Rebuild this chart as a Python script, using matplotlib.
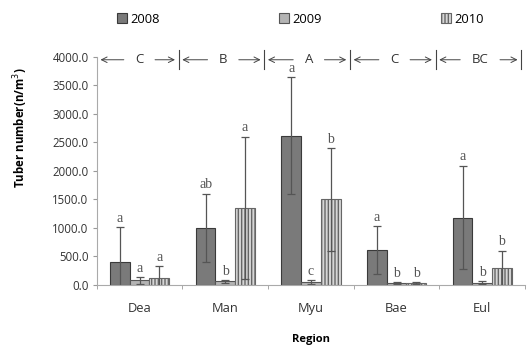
import matplotlib
matplotlib.use("Agg")
import matplotlib.pyplot as plt
import numpy as np

regions = ["Dea", "Man", "Myu", "Bae", "Eul"]
years = ["2008", "2009", "2010"]
vals_2008 = [410, 1000, 2620, 610, 1180]
vals_2009 = [80, 60, 50, 30, 40]
vals_2010 = [120, 1350, 1500, 30, 300]
err_2008 = [600, 600, 1030, 420, 910]
err_2009 = [60, 25, 30, 20, 30]
err_2010 = [210, 1250, 900, 15, 300]
let_2008 = ["a", "ab", "a", "a", "a"]
let_2009 = ["a", "b", "c", "b", "b"]
let_2010 = ["a", "a", "b", "b", "b"]
group_labels = ["C", "B", "A", "C", "BC"]

plt.rcParams['font.family'] = ['Open Sans', 'DejaVu Sans']

fig = plt.figure(figsize=(5.32, 3.47), dpi=100)
ax = fig.add_axes([0.182, 0.179, 0.805, 0.657])

x = np.arange(len(regions))
w = 0.23
series = [
    (vals_2008, err_2008, let_2008, dict(color="#7a7a7a", edgecolor="#3a3a3a", hatch=None)),
    (vals_2009, err_2009, let_2009, dict(color="#b4b4b4", edgecolor="#555555", hatch=None)),
    (vals_2010, err_2010, let_2010, dict(color="#d6d6d6", edgecolor="#666666", hatch="|||||")),
]
handles = []
for i, (v, e, lets, st) in enumerate(series):
    pos = x + (i - 1) * w
    b = ax.bar(pos, v, w, color=st["color"], edgecolor=st["edgecolor"],
               hatch=st["hatch"], linewidth=0.8, label=years[i])
    handles.append(b)
    ax.errorbar(pos, v, yerr=e, fmt="none", ecolor="#555555", elinewidth=0.9,
                capsize=3, capthick=0.9)
    for p, vv, ee, l in zip(pos, v, e, lets):
        ax.text(p, vv + ee + 40, l, ha="center", va="bottom", fontsize=10,
                color="#555555", family=["Liberation Serif", "DejaVu Serif"])

ax.set_xlim(-0.5, len(regions) - 0.5)
ax.set_ylim(0, 4000)
ax.set_yticks(np.arange(0, 4001, 500))
ax.set_yticklabels([f"{t:.1f}" for t in np.arange(0, 4001, 500)], fontsize=8.3,
                   color="#333333")
ax.set_xticks(x)
ax.set_xticklabels(regions, fontsize=9.3, color="#333333")
ax.set_xticks(np.arange(-0.5, len(regions), 1), minor=True)
ax.tick_params(axis="x", which="major", length=0, pad=12)
ax.tick_params(axis="x", which="minor", length=3, color="#999999")
ax.tick_params(axis="y", length=3, color="#999999", pad=3)
for s in ["top", "right"]:
    ax.spines[s].set_visible(False)
for s in ["left", "bottom"]:
    ax.spines[s].set_color("#aaaaaa")

ax.set_ylabel("Tuber number(n/m$^3$)", fontsize=8.3, fontweight="bold")
ax.yaxis.set_label_coords(-0.155, 0.69)
ax.set_xlabel("Region", fontsize=8, fontweight="bold")
ax.xaxis.set_label_coords(0.5, -0.215)

# group annotation arrows
ya = 3950
shift = 0.045
bounds = np.arange(-0.5, len(regions), 1) - shift
bounds[0] = -0.5
for i, gl in enumerate(group_labels):
    l, r = bounds[i], bounds[i + 1]
    c = (l + r) / 2 + 0.02
    ax.text(c, ya, gl, ha="center", va="center", fontsize=9.5, color="#333333",
            clip_on=False)
    half = 0.1 + 0.05 * len(gl)
    ax.annotate("", xy=(l + 0.01, ya), xytext=(c - half, ya),
                arrowprops=dict(arrowstyle="->", color="#444444", lw=0.7),
                annotation_clip=False)
    ax.annotate("", xy=(r - 0.01, ya), xytext=(c + half, ya),
                arrowprops=dict(arrowstyle="->", color="#444444", lw=0.7),
                annotation_clip=False)
for b in bounds[1:]:
    ax.plot([b, b], [ya - 170, ya + 170], color="#444444", lw=0.8, clip_on=False)

fig.legend(handles=handles, labels=years, loc="center", ncol=3,
           bbox_to_anchor=(0.565, 0.945), frameon=False, fontsize=9.3,
           handlelength=0.75, handleheight=0.75, handletextpad=0.3,
           columnspacing=9.2)

fig.savefig("out.png", dpi=100)
